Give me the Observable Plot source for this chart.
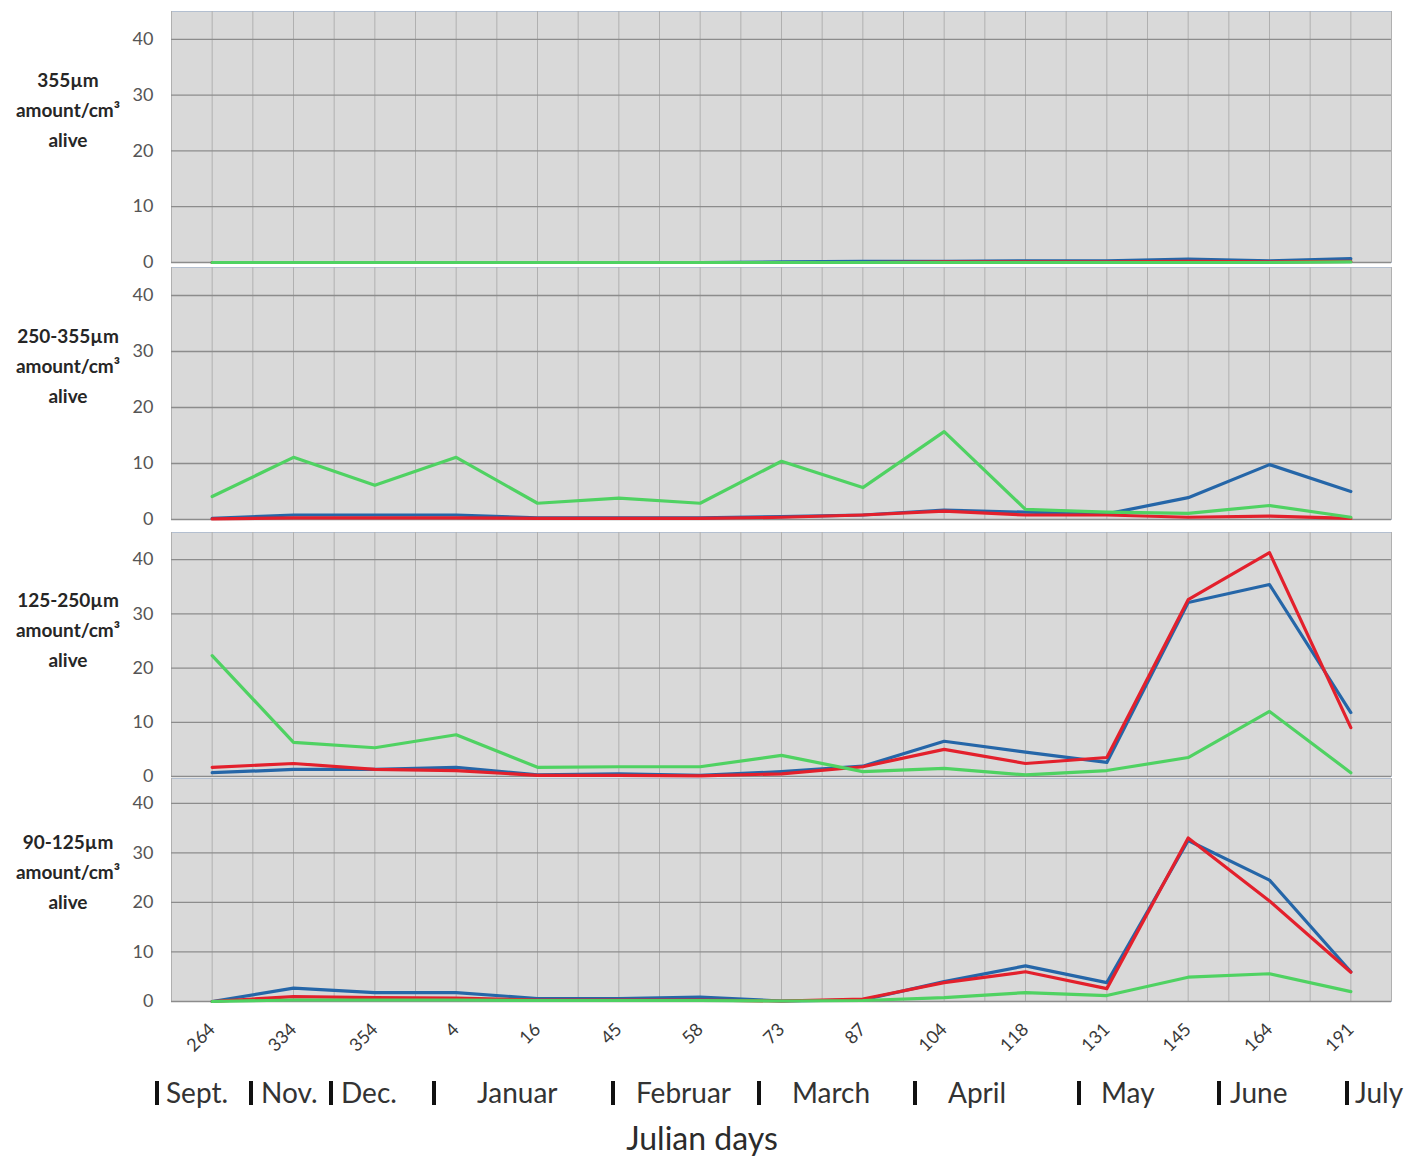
<!DOCTYPE html>
<html>
<head>
<meta charset="utf-8">
<script src="https://cdn.jsdelivr.net/npm/d3@7"></script>
<script src="https://cdn.jsdelivr.net/npm/@observablehq/plot@0.6"></script>
<style>
  html, body { margin: 0; padding: 0; background: #fff; }
  #wrap { position: relative; width: 1426px; height: 1160px; font-family: "Lato", "Open Sans", sans-serif; overflow: hidden; }
  .panel { position: absolute; left: 0; }
  .side { position: absolute; left: 0; width: 136px; text-align: center; font-weight: 700; font-size: 19px; line-height: 30px; color: #262626; }
  .month { position: absolute; top: 1075px; font-size: 28px; color: #333; white-space: nowrap; line-height: 34px; }
  .bar { position: absolute; top: 1081px; width: 4px; height: 24px; background: #111; }
  #xtitle { position: absolute; top: 1118px; left: 0; width: 1404px; text-align: center; font-size: 32px; color: #2b2b2b; line-height: 40px; }
</style>
</head>
<body>
<div id="wrap"></div>
<script>
// ---- data ----
const days = ["264","334","354","4","16","45","58","73","87","104","118","131","145","164","191"];
const sizeLabels = ["355µm", "250-355µm", "125-250µm", "90-125µm"];
const yTicks = [0, 10, 20, 30, 40];

// 355µm
const p1Blue  = [0, 0, 0, 0, 0, 0, 0, 0.1, 0.2, 0.2, 0.3, 0.3, 0.6, 0.3, 0.7];
const p1Red   = [0, 0, 0, 0, 0, 0, 0, 0, 0, 0.1, 0.1, 0.1, 0.2, 0.1, 0.2];
const p1Green = [0, 0, 0, 0, 0, 0, 0, 0, 0, 0, 0, 0, 0, 0, 0.1];
// 250-355µm
const p2Blue  = [0.2, 0.8, 0.8, 0.8, 0.3, 0.3, 0.3, 0.5, 0.8, 1.7, 1.3, 1.0, 3.9, 9.8, 5.0];
const p2Red   = [0.1, 0.3, 0.3, 0.3, 0.2, 0.2, 0.2, 0.4, 0.8, 1.5, 0.8, 0.8, 0.4, 0.6, 0.2];
const p2Green = [4.1, 11.1, 6.1, 11.1, 2.9, 3.8, 2.9, 10.4, 5.7, 15.7, 1.8, 1.3, 1.1, 2.5, 0.4];
// 125-250µm
const p3Blue  = [0.7, 1.3, 1.3, 1.7, 0.3, 0.5, 0.2, 0.9, 1.9, 6.5, 4.5, 2.6, 32.1, 35.4, 11.8];
const p3Red   = [1.7, 2.4, 1.3, 1.1, 0.2, 0.2, 0.1, 0.5, 1.8, 5.0, 2.4, 3.5, 32.6, 41.3, 9.0];
const p3Green = [22.3, 6.3, 5.3, 7.7, 1.7, 1.8, 1.8, 3.9, 0.9, 1.5, 0.3, 1.1, 3.5, 12.0, 0.7];
// 90-125µm
const p4Blue  = [0, 2.7, 1.8, 1.8, 0.6, 0.6, 0.9, 0.1, 0.3, 4.0, 7.2, 3.8, 32.5, 24.5, 6.0];
const p4Red   = [0, 1.0, 0.8, 0.7, 0.3, 0.3, 0.3, 0.1, 0.5, 3.8, 6.0, 2.6, 33.0, 20.3, 5.9];
const p4Green = [0, 0.3, 0.3, 0.3, 0.2, 0.2, 0.2, 0.1, 0.2, 0.8, 1.8, 1.2, 4.9, 5.6, 2.0];

const monthNames = ["Sept.", "Nov.", "Dec.", "Januar", "Februar", "March", "April", "May", "June", "July"];

// ---- layout ----
const colors = { blue: "#2566a8", red: "#e3202c", green: "#4fd262" };
const panels = [
  { series: [p1Blue, p1Red, p1Green], top: 0,   height: 266, mt: 11, mb: 4, label: 65 },
  { series: [p2Blue, p2Red, p2Green], top: 266, height: 258, mt: 1,  mb: 5, label: 321 },
  { series: [p3Blue, p3Red, p3Green], top: 524, height: 254, mt: 8,  mb: 2, label: 585 },
  { series: [p4Blue, p4Red, p4Green], top: 778, height: 382, mt: 0,  mb: 159, label: 827 }
];
const monthBarX  = [155, 249, 329, 432, 611, 757, 913, 1077, 1217, 1345];
const monthTextX = [166, 261, 341, 477, 636, 792, 948, 1101, 1230, 1355];

const wrap = document.getElementById("wrap");
const idx = d3.range(days.length);

panels.forEach((p, k) => {
  const last = k === panels.length - 1;
  const [b, r, g] = p.series;
  const toRows = arr => idx.map(i => ({ i, v: arr[i] }));
  const chart = Plot.plot({
    width: 1426,
    height: p.height,
    marginLeft: 171,
    marginRight: 35,
    marginTop: p.mt,
    marginBottom: p.mb,
    style: { background: "transparent", fontFamily: "Lato, 'Open Sans', sans-serif", fontSize: "18px", color: "#555", overflow: "visible" },
    x: {
      type: "linear", domain: [-0.5, days.length - 0.5],
      axis: last ? "bottom" : null,
      ticks: idx, tickFormat: i => days[i], tickRotate: -45, tickSize: 0, tickPadding: 25, label: null
    },
    y: { domain: [0, 45], ticks: yTicks, tickSize: 0, tickPadding: 18, label: null },
    marks: [
      Plot.frame({ fill: "#d9d9d9", stroke: "#b3bfd0" }),
      Plot.ruleX(d3.range(-0.5, days.length, 0.5), { stroke: "#b0b0b0", strokeWidth: 1 }),
      Plot.ruleY(yTicks, { stroke: "#8c8c8c", strokeWidth: 1.3 }),
      Plot.line(toRows(b), { x: "i", y: "v", stroke: colors.blue, strokeWidth: 3.2 }),
      Plot.line(toRows(r), { x: "i", y: "v", stroke: colors.red, strokeWidth: 3.2 }),
      Plot.line(toRows(g), { x: "i", y: "v", stroke: colors.green, strokeWidth: 3.2 })
    ]
  });
  chart.classList.add("panel");
  chart.style.top = p.top + "px";
  if (last) {
    chart.querySelectorAll("[aria-label='x-axis tick label'] text, [aria-label='x-axis tick label']").forEach(e => { e.setAttribute("fill", "#3a3a3a"); });
  }
  wrap.appendChild(chart);

  const side = document.createElement("div");
  side.className = "side";
  side.style.top = p.label + "px";
  side.innerHTML = sizeLabels[k] + "<br>amount/cm³<br>alive";
  wrap.appendChild(side);
});

monthNames.forEach((m, i) => {
  const bar = document.createElement("div");
  bar.className = "bar";
  bar.style.left = monthBarX[i] + "px";
  wrap.appendChild(bar);
  const t = document.createElement("div");
  t.className = "month";
  t.style.left = monthTextX[i] + "px";
  t.textContent = m;
  wrap.appendChild(t);
});

const xt = document.createElement("div");
xt.id = "xtitle";
xt.textContent = "Julian days";
wrap.appendChild(xt);
</script>
</body>
</html>
